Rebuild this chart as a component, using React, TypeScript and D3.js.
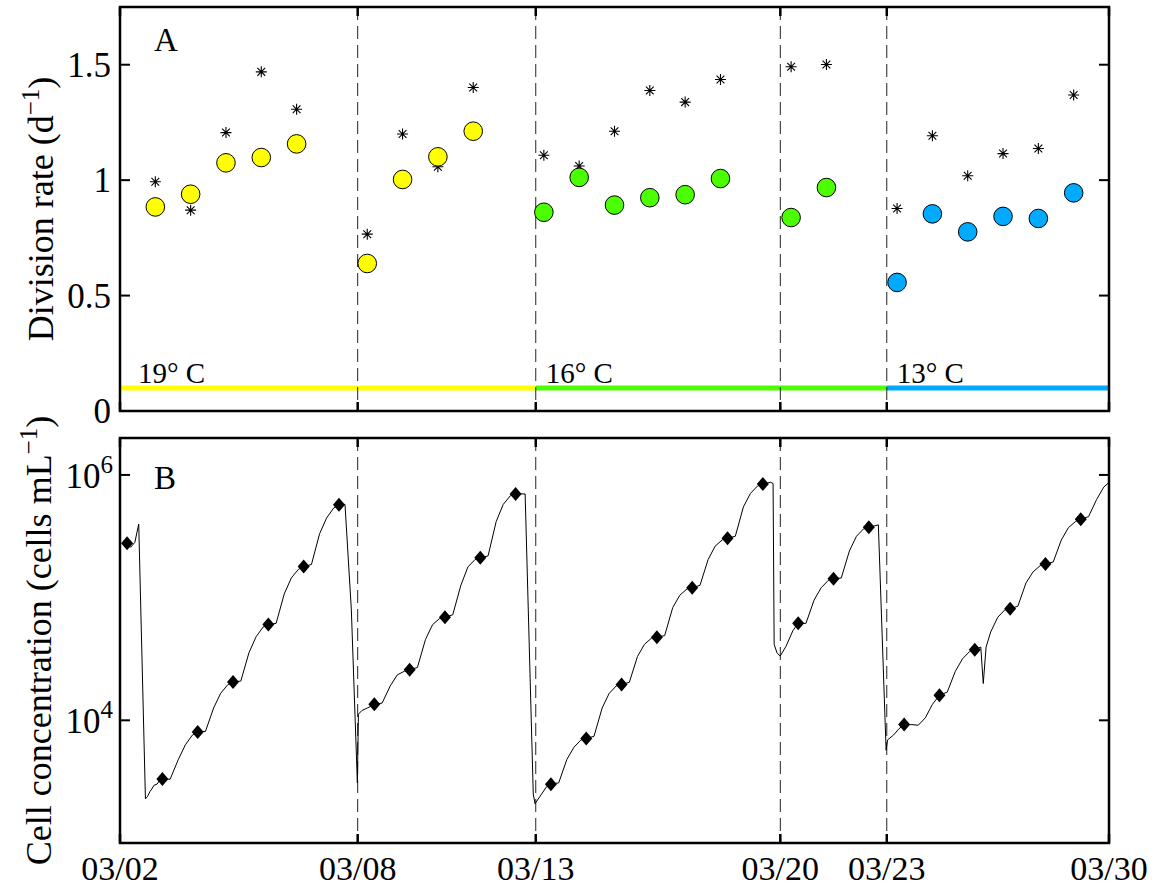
import React from "react";
import * as d3 from "d3";

// ---- data ----
// sampling days for division-rate estimates (days after 03/02 00:00)
const rateDays = [1, 2, 3, 4, 5, 7, 8, 9, 10, 12, 13, 14, 15, 16, 17, 19, 20, 22, 23, 24, 25, 26, 27];
// model-estimated division rate (d^-1), circles
const rateModel = [0.884, 0.939, 1.075, 1.098, 1.157, 0.639, 1.003, 1.101, 1.212,
  0.861, 1.012, 0.892, 0.924, 0.937, 1.007, 0.838, 0.968,
  0.557, 0.854, 0.776, 0.843, 0.834, 0.945];
// observed division rate (d^-1), asterisks
const rateObserved = [0.993, 0.870, 1.206, 1.469, 1.307, 0.766, 1.200, 1.058, 1.401,
  1.108, 1.061, 1.212, 1.388, 1.338, 1.436, 1.491, 1.501,
  0.877, 1.192, 1.019, 1.115, 1.137, 1.369];
// temperature treatment per sample
const rateTemp = ["19", "19", "19", "19", "19", "19", "19", "19", "19",
  "16", "16", "16", "16", "16", "16", "16", "16",
  "13", "13", "13", "13", "13", "13"];

const tempLabels = ["19° C", "16° C", "13° C"];
const tempColors: Record<string, string> = { "19": "#ffff00", "16": "#4cff00", "13": "#00aaff" };
const tempKeys = ["19", "16", "13"];
// temperature periods: start / end as dilution times
const tempStart = ["2010-03-02T00:00Z", "2010-03-13T18:30Z", "2010-03-23T17:00Z"];
const tempEnd = ["2010-03-13T18:30Z", "2010-03-23T17:00Z", "2010-03-30T00:00Z"];
const tempBarLevel = 0.1;

// x-axis ticks: start, dilution events, end
const tickTimes = ["2010-03-02T00:00Z", "2010-03-08T17:30Z", "2010-03-13T18:30Z",
  "2010-03-20T16:40Z", "2010-03-23T17:00Z", "2010-03-30T00:00Z"];
const dilutionTimes = ["2010-03-08T17:30Z", "2010-03-13T18:30Z", "2010-03-20T16:40Z", "2010-03-23T17:00Z"];

// daily cell concentration samples (log10 cells mL^-1) at day + 0.2
const diamondDays = [0.2, 1.2, 2.2, 3.2, 4.2, 5.2, 6.2, 7.2, 8.2, 9.2, 10.2, 11.2, 12.2, 13.2,
  14.2, 15.2, 16.2, 17.2, 18.2, 19.2, 20.2, 21.2, 22.2, 23.2, 24.2, 25.2, 26.2, 27.2];
const diamondLog10 = [5.443, 3.522, 3.905, 4.312, 4.781, 5.254, 5.756, 4.130, 4.413, 4.841,
  5.324, 5.845, 3.479, 3.851, 4.291, 4.678, 5.080, 5.484, 5.927, 4.792, 5.153, 5.573,
  3.965, 4.204, 4.575, 4.909, 5.275, 5.639];

// continuous flow-cytometer record: [day, log10 cells mL^-1]
const traceLog10: [number, number][] = [
  [0.10, 5.45], [0.20, 5.443], [0.30, 5.41], [0.42, 5.45], [0.53, 5.60], [0.72, 3.36], [0.78, 3.38],
  [0.85, 3.42], [0.90, 3.44], [0.96, 3.47], [1.05, 3.48], [1.12, 3.51], [1.20, 3.522],
  [1.42, 3.52], [1.65, 3.68], [1.85, 3.80], [2.05, 3.88], [2.20, 3.905],
  [2.42, 3.91], [2.65, 4.10], [2.85, 4.22], [3.05, 4.29], [3.20, 4.312],
  [3.42, 4.32], [3.65, 4.55], [3.85, 4.68], [4.05, 4.76], [4.20, 4.781],
  [4.42, 4.79], [4.65, 5.03], [4.85, 5.16], [5.05, 5.23], [5.20, 5.254],
  [5.42, 5.27], [5.65, 5.52], [5.85, 5.65], [6.05, 5.73], [6.20, 5.756],
  [6.37, 5.76], [6.55, 4.90], [6.72, 3.49], [6.75, 4.05], [6.85, 4.08], [7.00, 4.10], [7.20, 4.130],
  [7.42, 4.14], [7.65, 4.28], [7.85, 4.37], [8.05, 4.40], [8.20, 4.413],
  [8.42, 4.43], [8.65, 4.66], [8.85, 4.78], [9.05, 4.83], [9.20, 4.841],
  [9.42, 4.86], [9.65, 5.10], [9.85, 5.25], [10.05, 5.31], [10.20, 5.324],
  [10.42, 5.34], [10.65, 5.62], [10.85, 5.76], [11.05, 5.83], [11.20, 5.845],
  [11.47, 5.845], [11.70, 3.40], [11.75, 3.32], [11.89, 3.38], [12.08, 3.46], [12.20, 3.479],
  [12.42, 3.49], [12.65, 3.68], [12.85, 3.78], [13.05, 3.84], [13.20, 3.851],
  [13.42, 3.87], [13.65, 4.10], [13.85, 4.22], [14.05, 4.28], [14.20, 4.291],
  [14.42, 4.31], [14.65, 4.52], [14.85, 4.62], [15.05, 4.67], [15.20, 4.678],
  [15.42, 4.69], [15.65, 4.92], [15.85, 5.02], [16.05, 5.07], [16.20, 5.080],
  [16.42, 5.10], [16.65, 5.31], [16.85, 5.42], [17.05, 5.47], [17.20, 5.484],
  [17.42, 5.50], [17.65, 5.74], [17.85, 5.85], [18.05, 5.91], [18.20, 5.927],
  [18.42, 5.94], [18.49, 5.93], [18.52, 4.62], [18.60, 4.55], [18.69, 4.523],
  [18.85, 4.60], [19.05, 4.73], [19.20, 4.792],
  [19.42, 4.79], [19.65, 4.98], [19.85, 5.08], [20.05, 5.14], [20.20, 5.153],
  [20.42, 5.16], [20.65, 5.38], [20.85, 5.50], [21.05, 5.56], [21.20, 5.573],
  [21.47, 5.593], [21.69, 3.756], [21.73, 3.84], [21.90, 3.88], [22.05, 3.93], [22.20, 3.965],
  [22.42, 3.965], [22.60, 3.96], [22.80, 4.02], [23.00, 4.13], [23.20, 4.204],
  [23.42, 4.23], [23.65, 4.40], [23.85, 4.50], [24.05, 4.56], [24.20, 4.575],
  [24.37, 4.597], [24.44, 4.30], [24.52, 4.597], [24.65, 4.72], [24.85, 4.84], [25.05, 4.90], [25.20, 4.909],
  [25.42, 4.93], [25.65, 5.12], [25.85, 5.21], [26.05, 5.26], [26.20, 5.275],
  [26.42, 5.29], [26.65, 5.47], [26.85, 5.57], [27.05, 5.62], [27.20, 5.639],
  [27.42, 5.66], [27.65, 5.80], [27.85, 5.90], [28.00, 5.94],
];

const rateTicks = [0, 0.5, 1, 1.5];
const rateTickLabels = ["0", "0.5", "1", "1.5"];
const concTicks = [1e4, 1e6];
const concTickExp = ["4", "6"];

// ---- layout ----
const W = 1157;
const H = 888;
const left = 120;
const right = 1109;
const aTop = 7;
const aBottom = 411;
const bTop = 438;
const bBottom = 843;
const FONT = "'Liberation Serif', 'Times New Roman', Times, serif";

const t0 = Date.parse("2010-03-02T00:00Z");
const dayToDate = (d: number) => new Date(t0 + d * 86400000);

const x = d3.scaleUtc()
  .domain([new Date("2010-03-02T00:00Z"), new Date("2010-03-30T00:00Z")])
  .range([left, right]);
const yA = d3.scaleLinear().domain([0, 1.75]).range([aBottom, aTop]);
const yB = d3.scaleLog().domain([1e3, 2e6]).range([bBottom, bTop]);
const fmt = d3.utcFormat("%m/%d");

function Star({ cx, cy, r }: { cx: number; cy: number; r: number }) {
  const k = r * Math.SQRT1_2;
  const d = `M${cx - r},${cy}H${cx + r}M${cx},${cy - r}V${cy + r}` +
    `M${cx - k},${cy - k}L${cx + k},${cy + k}M${cx - k},${cy + k}L${cx + k},${cy - k}`;
  return <path d={d} stroke="#000" strokeWidth={1.1} fill="none" />;
}

function Frame({ top, bottom }: { top: number; bottom: number }) {
  return (
    <g>
      {dilutionTimes.map((t) => (
        <line key={t} x1={x(new Date(t))} x2={x(new Date(t))} y1={top} y2={bottom}
          stroke="#222" strokeWidth={1} strokeDasharray="13,6" />
      ))}
      {tickTimes.map((t) => {
        const xx = x(new Date(t));
        return (
          <g key={t}>
            <line x1={xx} x2={xx} y1={top} y2={top + 9} stroke="#000" strokeWidth={2.5} />
            <line x1={xx} x2={xx} y1={bottom} y2={bottom - 9} stroke="#000" strokeWidth={2.5} />
          </g>
        );
      })}
      <rect x={left} y={top} width={right - left} height={bottom - top}
        fill="none" stroke="#000" strokeWidth={2.5} />
    </g>
  );
}

export default function App() {
  const line = d3.line<[number, number]>()
    .x((d) => x(dayToDate(d[0])))
    .y((d) => yB(Math.pow(10, d[1])));

  return (
    <svg width={W} height={H} viewBox={`0 0 ${W} ${H}`}
      style={{ position: "absolute", left: 0, top: 0, background: "#fff" }}
      fontFamily={FONT}>
      <rect x={0} y={0} width={W} height={H} fill="#fff" />

      {/* ---------- panel A: division rate ---------- */}
      {tempKeys.map((k, i) => (
        <line key={k} x1={x(new Date(tempStart[i]))} x2={x(new Date(tempEnd[i]))}
          y1={yA(tempBarLevel)} y2={yA(tempBarLevel)} stroke={tempColors[k]} strokeWidth={5} />
      ))}
      <Frame top={aTop} bottom={aBottom} />
      {tempKeys.map((k, i) => (
        <text key={k} x={x(new Date(tempStart[i])) + (i === 0 ? 18 : 10)} y={383} fontSize={29}>
          {tempLabels[i]}
        </text>
      ))}
      {rateTicks.map((v, i) => (
        <g key={v}>
          <line x1={left} x2={left + 10} y1={yA(v)} y2={yA(v)} stroke="#000" strokeWidth={2} />
          <line x1={right} x2={right - 10} y1={yA(v)} y2={yA(v)} stroke="#000" strokeWidth={2} />
          <text x={111} y={yA(v) + 12} textAnchor="end" fontSize={35}>{rateTickLabels[i]}</text>
        </g>
      ))}
      {rateDays.map((d, i) => (
        <Star key={"s" + i} cx={x(dayToDate(d))} cy={yA(rateObserved[i])} r={5.5} />
      ))}
      {rateDays.map((d, i) => (
        <circle key={"c" + i} cx={x(dayToDate(d))} cy={yA(rateModel[i])} r={9.3}
          fill={tempColors[rateTemp[i]]} stroke="#000" strokeWidth={1} />
      ))}
      <text x={154} y={51} fontSize={33}>A</text>
      <text transform={`translate(53,${(aTop + aBottom) / 2}) rotate(-90)`} textAnchor="middle" fontSize={36}>
        Division rate (d<tspan dy={-14} fontSize={25}>−1</tspan><tspan dy={14}>)</tspan>
      </text>

      {/* ---------- panel B: cell concentration ---------- */}
      <Frame top={bTop} bottom={bBottom} />
      {concTicks.map((v, i) => (
        <g key={v}>
          <line x1={left} x2={left + 10} y1={yB(v)} y2={yB(v)} stroke="#000" strokeWidth={2} />
          <line x1={right} x2={right - 10} y1={yB(v)} y2={yB(v)} stroke="#000" strokeWidth={2} />
          <text x={113} y={yB(v) + 13} textAnchor="end" fontSize={35}>
            10<tspan dy={-15} fontSize={25}>{concTickExp[i]}</tspan>
          </text>
        </g>
      ))}
      <path d={line(traceLog10) || ""} fill="none" stroke="#000" strokeWidth={1} />
      {diamondDays.map((d, i) => {
        const cx = x(dayToDate(d));
        const cy = yB(Math.pow(10, diamondLog10[i]));
        return (
          <path key={"d" + i} d={`M${cx},${cy - 7}L${cx + 6},${cy}L${cx},${cy + 7}L${cx - 6},${cy}Z`}
            fill="#000" />
        );
      })}
      <text x={154} y={489} fontSize={33}>B</text>
      <text transform={`translate(51,${(bTop + bBottom) / 2}) rotate(-90)`} textAnchor="middle" fontSize={36}>
        Cell concentration (cells mL<tspan dy={-14} fontSize={25}>−1</tspan><tspan dy={14}>)</tspan>
      </text>

      {/* x tick labels */}
      {tickTimes.map((t) => (
        <text key={t} x={x(new Date(t))} y={880} textAnchor="middle" fontSize={34}>
          {fmt(new Date(t))}
        </text>
      ))}
    </svg>
  );
}
